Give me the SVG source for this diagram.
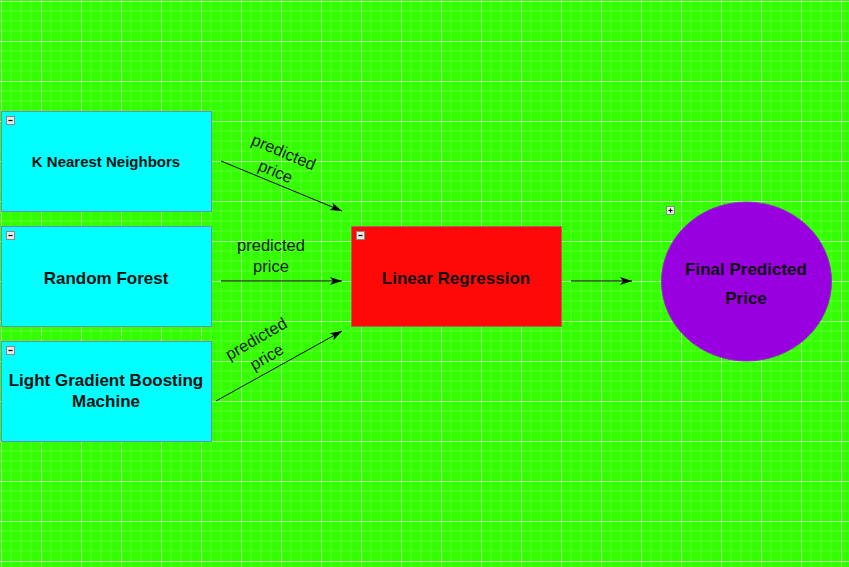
<svg xmlns="http://www.w3.org/2000/svg" width="849" height="567" viewBox="0 0 849 567">
<style>
.node-t{font-family:"Liberation Sans",Arial,sans-serif;font-weight:bold;fill:#111;text-anchor:middle}
.lbl{font-family:"Liberation Sans",Arial,sans-serif;font-size:16.5px;fill:#1a1a1a;text-anchor:middle}
.edge{stroke:#000;stroke-width:1;fill:none;marker-end:url(#arr)}
.ico{fill:#e8e8e8;stroke:#888;stroke-width:1}
.icl{stroke:#000;stroke-width:1.2}
</style>
<defs>
<pattern id="grid" x="1" y="1" width="40" height="40" patternUnits="userSpaceOnUse">
<rect width="40" height="40" fill="#33ff00"/>
<path d="M10 0V40M20 0V40M30 0V40M0 10H40M0 20H40M0 30H40" stroke="#ffffff" stroke-opacity="0.18" stroke-width="1"/>
<path d="M0.5 0V40M0 0.5H40" stroke="#ffffff" stroke-opacity="0.55" stroke-width="1"/>
</pattern>
<marker id="arr" viewBox="0 0 12 10" refX="12" refY="5" markerWidth="12" markerHeight="10" markerUnits="userSpaceOnUse" orient="auto">
<path d="M0 1L12 5L0 9L3 5Z" fill="#000"/>
</marker>
</defs>
<rect width="849" height="567" fill="url(#grid)"/>
<g id="connectors">
<path class="edge" d="M221 161L342 211"/>
<path class="edge" d="M221 281L342 281"/>
<path class="edge" d="M216 401L342 331"/>
<path class="edge" d="M571 281L632 281"/>
<g transform="rotate(23 280 161)">
<text class="lbl" x="280" y="157">predicted</text>
<text class="lbl" x="280" y="178">price</text>
</g>
<text class="lbl" x="271" y="251">predicted</text>
<text class="lbl" x="271" y="272">price</text>
<g transform="rotate(-30 261 347)">
<text class="lbl" x="261" y="343">predicted</text>
<text class="lbl" x="261" y="364">price</text>
</g>
</g>
<g id="knn">
<rect x="1.5" y="111.5" width="210" height="100" fill="#00ffff" stroke="#6c8ebf"/>
<rect class="ico" x="6.5" y="116.5" width="8" height="8"/><path class="icl" d="M8.5 120.5H12.5"/>
<text class="node-t" x="106" y="167" font-size="15">K Nearest Neighbors</text>
</g>
<g id="rf">
<rect x="1.5" y="226.5" width="210" height="100" fill="#00ffff" stroke="#6c8ebf"/>
<rect class="ico" x="6.5" y="231.5" width="8" height="8"/><path class="icl" d="M8.5 235.5H12.5"/>
<text class="node-t" x="106" y="284" font-size="17">Random Forest</text>
</g>
<g id="lgbm">
<rect x="1.5" y="341.5" width="210" height="100" fill="#00ffff" stroke="#6c8ebf"/>
<rect class="ico" x="6.5" y="346.5" width="8" height="8"/><path class="icl" d="M8.5 350.5H12.5"/>
<text class="node-t" x="106" y="386" font-size="17">Light Gradient Boosting</text>
<text class="node-t" x="106" y="407" font-size="17">Machine</text>
</g>
<g id="lr">
<rect x="351.5" y="226.5" width="210" height="100" fill="#ff0808" stroke="#b06060"/>
<rect class="ico" x="356.5" y="231.5" width="8" height="8"/><path class="icl" d="M358.5 235.5H362.5"/>
<text class="node-t" x="456" y="284" font-size="17">Linear Regression</text>
</g>
<g id="final">
<ellipse cx="746.5" cy="281.5" rx="85" ry="79.5" fill="#9900e0" stroke="#8a30c0"/>
<rect class="ico" x="666.5" y="206.5" width="8" height="8" fill="#f4f4f4"/><path class="icl" d="M668.5 210.5H672.5M670.5 208.5V212.5"/>
<text class="node-t" x="746" y="275" font-size="17">Final Predicted</text>
<text class="node-t" x="746" y="304" font-size="17">Price</text>
</g>
</svg>
